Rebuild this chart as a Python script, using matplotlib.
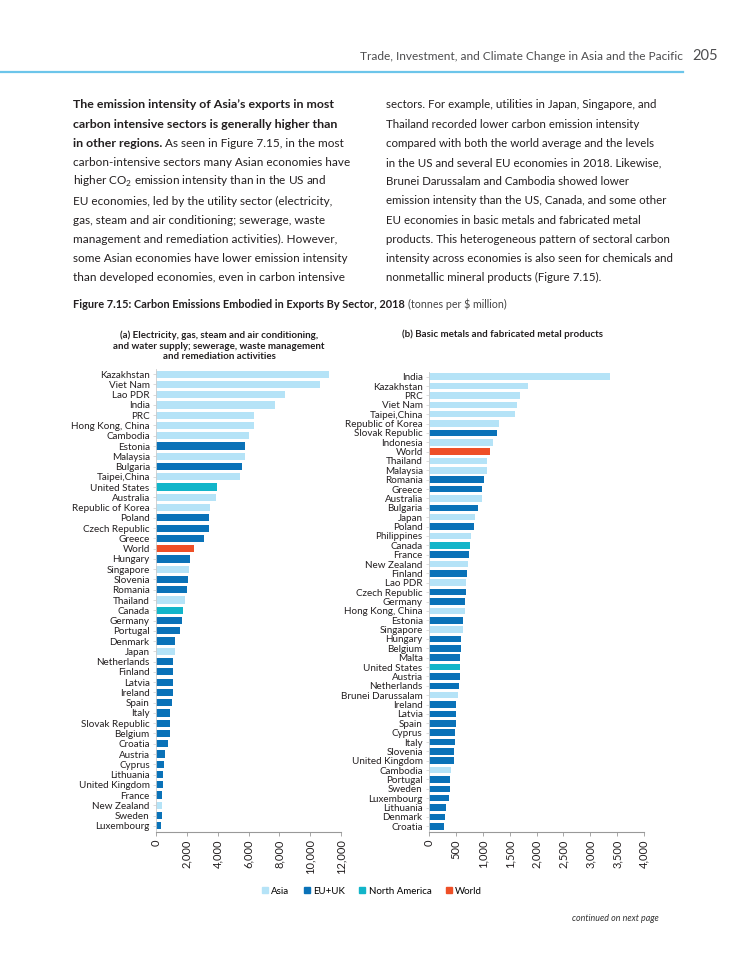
import matplotlib
matplotlib.use("Agg")
import matplotlib.pyplot as plt
from matplotlib.patches import Patch
from matplotlib.ticker import FuncFormatter

plt.rcParams['font.family'] = ['Lato', 'DejaVu Sans']
plt.rcParams['mathtext.fontset'] = 'custom'
plt.rcParams['mathtext.rm'] = 'Lato'

W, H = 750, 971
TXT = '#231f20'
colors = {'A': '#b5e3f7', 'E': '#0a72b8', 'N': '#12b5c9', 'W': '#ee4f27'}

# panel (a): utilities
a_names = ['Kazakhstan', 'Viet Nam', 'Lao PDR', 'India', 'PRC', 'Hong Kong, China', 'Cambodia',
           'Estonia', 'Malaysia', 'Bulgaria', 'Taipei,China', 'United States', 'Australia',
           'Republic of Korea', 'Poland', 'Czech Republic', 'Greece', 'World', 'Hungary',
           'Singapore', 'Slovenia', 'Romania', 'Thailand', 'Canada', 'Germany', 'Portugal',
           'Denmark', 'Japan', 'Netherlands', 'Finland', 'Latvia', 'Ireland', 'Spain', 'Italy',
           'Slovak Republic', 'Belgium', 'Croatia', 'Austria', 'Cyprus', 'Lithuania',
           'United Kingdom', 'France', 'New Zealand', 'Sweden', 'Luxembourg']
a_vals = [11240, 10650, 8370, 7700, 6370, 6330, 6040, 5760, 5750, 5570, 5430, 3960, 3890,
          3480, 3430, 3460, 3130, 2480, 2220, 2110, 2065, 1980, 1890, 1740, 1700, 1540,
          1240, 1220, 1130, 1110, 1110, 1090, 1065, 935, 935, 915, 800, 565, 500, 455,
          455, 415, 415, 390, 305]
a_grp = ['A', 'A', 'A', 'A', 'A', 'A', 'A', 'E', 'A', 'E', 'A', 'N', 'A', 'A', 'E', 'E', 'E',
         'W', 'E', 'A', 'E', 'E', 'A', 'N', 'E', 'E', 'E', 'A', 'E', 'E', 'E', 'E', 'E', 'E',
         'E', 'E', 'E', 'E', 'E', 'E', 'E', 'E', 'A', 'E', 'E']

# panel (b): basic metals
b_names = ['India', 'Kazakhstan', 'PRC', 'Viet Nam', 'Taipei,China', 'Republic of Korea',
           'Slovak Republic', 'Indonesia', 'World', 'Thailand', 'Malaysia', 'Romania', 'Greece',
           'Australia', 'Bulgaria', 'Japan', 'Poland', 'Philippines', 'Canada', 'France',
           'New Zealand', 'Finland', 'Lao PDR', 'Czech Republic', 'Germany', 'Hong Kong, China',
           'Estonia', 'Singapore', 'Hungary', 'Belgium', 'Malta', 'United States', 'Austria',
           'Netherlands', 'Brunei Darussalam', 'Ireland', 'Latvia', 'Spain', 'Cyprus', 'Italy',
           'Slovenia', 'United Kingdom', 'Cambodia', 'Portugal', 'Sweden', 'Luxembourg',
           'Lithuania', 'Denmark', 'Croatia']
b_vals = [3368, 1849, 1687, 1644, 1600, 1309, 1266, 1191, 1135, 1086, 1084, 1030, 993, 992,
          912, 850, 837, 782, 769, 744, 732, 701, 689, 689, 664, 663, 639, 627, 602, 601,
          583, 571, 570, 558, 540, 502, 502, 501, 490, 478, 465, 465, 403, 391, 390, 366,
          323, 298, 273]
b_grp = ['A', 'A', 'A', 'A', 'A', 'A', 'E', 'A', 'W', 'A', 'A', 'E', 'E', 'A', 'E', 'A', 'E',
         'A', 'N', 'E', 'A', 'E', 'A', 'E', 'E', 'A', 'E', 'A', 'E', 'E', 'E', 'N', 'E', 'E',
         'A', 'E', 'E', 'E', 'E', 'E', 'E', 'E', 'A', 'E', 'E', 'E', 'E', 'E', 'E']

a_ticks = [0, 2000, 4000, 6000, 8000, 10000, 12000]
b_ticks = [0, 500, 1000, 1500, 2000, 2500, 3000, 3500, 4000]

left_lines = [
    "carbon-intensive sectors many Asian economies have",
    "higher CO$_{2}$ emission intensity than in the US and",
    "EU economies, led by the utility sector (electricity,",
    "gas, steam and air conditioning; sewerage, waste",
    "management and remediation activities). However,",
    "some Asian economies have lower emission intensity",
    "than developed economies, even in carbon intensive",
]
right_lines = [
    "sectors. For example, utilities in Japan, Singapore, and",
    "Thailand recorded lower carbon emission intensity",
    "compared with both the world average and the levels",
    "in the US and several EU economies in 2018. Likewise,",
    "Brunei Darussalam and Cambodia showed lower",
    "emission intensity than the US, Canada, and some other",
    "EU economies in basic metals and fabricated metal",
    "products. This heterogeneous pattern of sectoral carbon",
    "intensity across economies is also seen for chemicals and",
    "nonmetallic mineral products (Figure 7.15).",
]


def px(x, y):
    return x / W, 1 - y / H


fig = plt.figure(figsize=(7.5, 9.71), dpi=100)
fig.patch.set_facecolor('white')

# header
fig.text(*px(683, 57), "Trade, Investment, and Climate Change in Asia and the Pacific",
         ha='right', va='center', fontsize=8.6, color='#4d4d4f')
fig.text(*px(692, 56), "205", ha='left', va='center', fontsize=10.5, color='#4d4d4f')
fig.add_artist(plt.Line2D([0, 683 / W], [1 - 72 / H] * 2, color='#6cc5ea', lw=1.6))

fs = 8.45
fb = 8.9
lh = 19.2
y0 = 105
fig.text(*px(73, y0), "The emission intensity of Asia’s exports in most",
         fontsize=fb, fontweight='bold', va='center', color=TXT)
fig.text(*px(73, y0 + lh), "carbon intensive sectors is generally higher than",
         fontsize=fb, fontweight='bold', va='center', color=TXT)
t = fig.text(*px(73, y0 + 2 * lh), "in other regions.",
             fontsize=fb, fontweight='bold', va='center', color=TXT)
fig.canvas.draw()
bb = t.get_window_extent()
fig.text(bb.x1 / W + 3 / W, 1 - (y0 + 2 * lh) / H, "As seen in Figure 7.15, in the most",
         fontsize=fs, va='center', color=TXT)
for i, s in enumerate(left_lines):
    fig.text(*px(73, y0 + (3 + i) * lh), s, fontsize=fs, va='center', color=TXT)
for i, s in enumerate(right_lines):
    fig.text(*px(386, y0 + i * lh), s, fontsize=8.3, va='center', color=TXT)

# figure title
t = fig.text(*px(73, 304), "Figure 7.15: Carbon Emissions Embodied in Exports By Sector, 2018",
             fontsize=7.9, fontweight='bold', va='center', color=TXT)
fig.canvas.draw()
bb = t.get_window_extent()
fig.text(bb.x1 / W + 3 / W, 1 - 304 / H, "(tonnes per \\$ million)",
         fontsize=7.7, va='center', color='#444444')

# panel subtitles
fig.text(*px(219, 346), "(a) Electricity, gas, steam and air conditioning,\n"
         "and water supply; sewerage, waste management\nand remediation activities",
         ha='center', va='center', fontsize=7.0, fontweight='bold', color=TXT, linespacing=1.2)
fig.text(*px(502, 334), "(b) Basic metals and fabricated metal products",
         ha='center', va='center', fontsize=7.0, fontweight='bold', color=TXT)


def panel(rect, names, vals, grp, ticks, xmax):
    l, t_, r, b = rect
    ax = fig.add_axes([l / W, 1 - b / H, (r - l) / W, (b - t_) / H])
    ys = list(range(len(names)))
    ax.barh(ys, vals, height=0.7, color=[colors[g] for g in grp])
    ax.set_ylim(len(names) - 0.5, -0.5)
    ax.set_xlim(0, xmax)
    ax.set_yticks(ys)
    ax.set_yticklabels(names, fontsize=7.1, color=TXT)
    ax.set_xticks(ticks)
    ax.xaxis.set_major_formatter(FuncFormatter(lambda v, p: f"{int(v):,}"))
    ax.tick_params(axis='x', labelrotation=90, labelsize=8.0, labelcolor=TXT,
                   length=3, width=0.6, color='#999999', pad=2)
    for s in ['top', 'right']:
        ax.spines[s].set_visible(False)
    ax.spines['left'].set_color('#cccccc')
    ax.spines['left'].set_linewidth(0.6)
    ax.spines['bottom'].set_color('#999999')
    ax.spines['bottom'].set_linewidth(0.8)
    ax.spines['bottom'].set_position(('outward', 1))
    ax.tick_params(axis='y', length=2, width=0.5, color='#cccccc', pad=2.5)
    return ax


panel((156, 369, 341, 831), a_names, a_vals, a_grp, a_ticks, 12000)
panel((429, 372, 644, 831), b_names, b_vals, b_grp, b_ticks, 4000)

handles = [Patch(color=colors['A'], label='Asia'), Patch(color=colors['E'], label='EU+UK'),
           Patch(color=colors['N'], label='North America'), Patch(color=colors['W'], label='World')]
fig.legend(handles=handles, loc='center', bbox_to_anchor=px(372, 891), ncol=4, frameon=False,
           fontsize=7.0, handlelength=0.6, handleheight=0.6, handletextpad=0.35,
           columnspacing=1.5)

fig.text(*px(659, 918), "continued on next page", ha='right', va='center',
         fontsize=6.4, style='italic', color='#333333')

fig.savefig('out.png', dpi=100)
